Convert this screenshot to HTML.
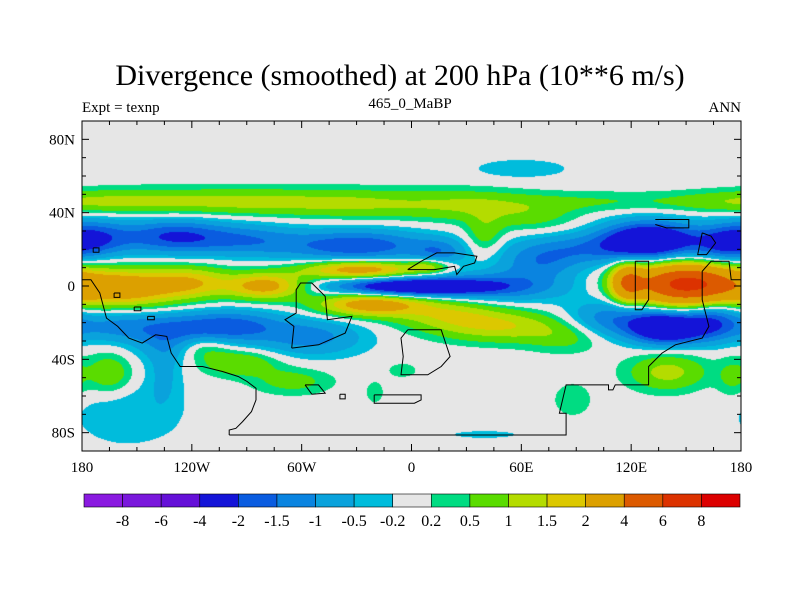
<!DOCTYPE html>
<html><head><meta charset="utf-8">
<style>
body{margin:0;background:#fff;}
#wrap{position:relative;width:800px;height:600px;overflow:hidden;font-family:"Liberation Serif",serif;}
.t{position:absolute;white-space:nowrap;color:#000;}
</style></head>
<body>
<div id="wrap">
<div class="t" style="left:0;width:800px;text-align:center;top:59px;font-size:30px;">Divergence (smoothed) at 200 hPa (10**6 m/s)</div>
<div class="t" style="left:82px;top:100px;font-size:15px;">Expt = texnp</div>
<div class="t" style="left:310px;width:200px;text-align:center;top:96px;font-size:15px;">465_0_MaBP</div>
<div class="t" style="right:59px;top:100px;font-size:15px;">ANN</div>
<canvas id="cv" width="659" height="330" style="position:absolute;left:82px;top:121px;"></canvas>
<svg id="sv" width="800" height="600" style="position:absolute;left:0;top:0;"></svg>
</div>
<script>
// field blobs: lon, lat, amplitude, lon-width, lat-width
const blobLon=[-150,-90,-30,30,100,170,40,60,-175,-130,-90,-30,15,130,90,170,70,-158,-120,-80,-28,10,0,50,-22,20,50,85,118,150,140,110,165,-160,-100,-55,-130,-115,-95,-65,-165,-155,-135,140,175,-5,-20,88,40,65];
const blobLat=[46,46,45,44,46,46,28,64,26,27,25,22,18,25,20,22,12,-1,2,0,9,11,-0.5,0,-10,-15,-22,-28,2,1,-23,-18,-18,-22,-22,-28,-30,-33,-42,-52,-48,-68,-48,-47,-50,-46,-58,-62,-81,38];
const blobAmp=[0.95,1.0,1.0,0.9,0.5,0.55,0.8,-0.4,-1.9,-2.0,-1.2,-1.95,-1.1,-3.4,-1.2,-1.4,-1,2.8,1.6,2.4,2.6,1.2,-3.5,-1.4,2.6,1.2,1.4,0.6,3.2,6.6,-3.4,-1.4,-1.4,-1.2,-1.8,-1.2,-1,0.9,1.0,0.7,1.0,-0.45,-0.5,1.2,0.6,0.4,0.35,0.4,-0.3,0.6];
const blobSx=[30,30,30,25,35,25,7,20,15,20,20,28,10,18,25,12,15,22,15,15,22,8,28,25,20,20,25,15,6,20,14,18,10,25,20,20,15,10,15,15,9,22,6,15,6,6,4,8,18,18];
const blobSy=[5,5,5.5,6,4,4,8,4,7,6.5,6,6,5,7,6,7,6,7,6,5,3.5,3,3.5,6,4.5,6,6,6,7,7.5,6,7,8,6,6,7,8,5,5,5,8,14,12,7,8,3,5,7,2,6];
const levels=[-8,-6,-4,-2,-1.5,-1,-0.5,-0.2,0.2,0.5,1,1.5,2,4,6,8];
const levelLabels=["-8","-6","-4","-2","-1.5","-1","-0.5","-0.2","0.2","0.5","1","1.5","2","4","6","8"];
const colors=["#8a1ae0","#7a18dc","#6510d8","#1414d8","#0a5ce0","#0a84e0","#0aa2dc","#00bcdc","#e6e6e6","#00dc82","#5adc00","#b4dc00","#dcc800","#dca000","#dc5a00","#dc3200","#dc0000"];
const lonTicks=[-180,-120,-60,0,60,120,180];
const lonLabels=["180","120W","60W","0","60E","120E","180"];
const latTicks=[80,40,0,-40,-80];
const latLabels=["80N","40N","0","40S","80S"];

const X0=82,X1=741,Y0=121,Y1=451;
const xOf=lon=>X0+(lon+180)/360*(X1-X0);
const yOf=lat=>Y0+(90-lat)/180*(Y1-Y0);
function colorIdx(v){let i=0;while(i<levels.length&&v>=levels[i])i++;return i;}
const rgb=colors.map(c=>[parseInt(c.slice(1,3),16),parseInt(c.slice(3,5),16),parseInt(c.slice(5,7),16)]);

const cv=document.getElementById('cv'),ctx=cv.getContext('2d');
const W=cv.width,H=cv.height,img=ctx.createImageData(W,H);
for(let py=0;py<H;py++){const lat=90-(py+0.5)/H*180;
 for(let px=0;px<W;px++){const lon=-180+(px+0.5)/W*360;let v=0;
  for(let k=0;k<blobLon.length;k++){let d=lon-blobLon[k];if(d>180)d-=360;if(d<-180)d+=360;
   const a=d/blobSx[k],b=(lat-blobLat[k])/blobSy[k];const e=a*a+b*b;if(e<30)v+=blobAmp[k]*Math.exp(-e/2);}
  const c=rgb[colorIdx(v)],o=(py*W+px)*4;img.data[o]=c[0];img.data[o+1]=c[1];img.data[o+2]=c[2];img.data[o+3]=255;}}
ctx.putImageData(img,0,0);

const NS='http://www.w3.org/2000/svg',sv=document.getElementById('sv');
function mk(tag,attrs,parent){const e=document.createElementNS(NS,tag);for(const k in attrs)e.setAttribute(k,attrs[k]);(parent||sv).appendChild(e);return e;}
const coasts=[
[[380,1005],[1135,1005],[1135,940],[1120,940],[1135,855],[1230,855],[1230,870],[1240,870],[1245,855],[1320,855],[1320,800],[1350,760],[1380,735],[1440,715],[1455,680],[1440,600],[1440,515],[1460,485],[1500,485],[1505,540],[1527,540]],
[[380,1005],[380,990],[395,985],[410,965],[430,935],[440,900],[440,865],[420,845],[400,830],[365,815],[320,800],[270,800],[250,760],[240,710],[215,705],[185,730],[155,715],[130,680],[105,655],[90,580],[70,540],[50,540]],
[[520,745],[580,735],[640,700],[655,650],[600,660],[595,590],[565,550],[540,550],[530,570],[530,640],[505,660],[525,680],[520,745]],
[[780,690],[855,690],[875,770],[855,800],[825,825],[765,825],[770,770],[765,715],[780,690]],
[[780,510],[810,485],[845,460],[885,460],[935,470],[930,490],[905,500],[890,525],[885,500],[840,510],[780,510]],
[[1290,485],[1320,485],[1320,600],[1305,630],[1290,630],[1290,485]],
[[1335,360],[1410,360],[1410,385],[1360,385],[1335,375]],
[[1440,400],[1460,410],[1470,430],[1450,465],[1430,465],[1440,400]],
[[705,885],[810,885],[810,900],[795,910],[705,910],[705,885]],
[[550,855],[580,855],[595,880],[565,883],[550,855]],
[[75,445],[88,445],[88,458],[75,458],[75,445]],[[122,580],[135,580],[135,593],[122,593],[122,580]],
[[167,622],[182,622],[182,633],[167,633],[167,622]],[[197,650],[212,650],[212,660],[197,660],[197,650]],
[[628,883],[640,883],[640,897],[628,897],[628,883]]];
const zx=z=>X0+(z-50)/1477*(X1-X0),zy=z=>Y0+(z-65)/988*(Y1-Y0);
coasts.forEach(c=>{const p=mk('polyline',{points:c.map(q=>zx(q[0]).toFixed(1)+','+zy(q[1]).toFixed(1)).join(' '),fill:'none',stroke:'#000','stroke-width':1});

});
const fr=mk('rect',{x:X0,y:Y0,width:X1-X0,height:Y1-Y0,fill:'none',stroke:'#000','stroke-width':1});


for(let lon=-180;lon<=180;lon+=15){const x=xOf(lon),L=lon%60===0?7:4;
 mk('line',{x1:x,y1:Y1,x2:x,y2:Y1-L,stroke:'#000'});mk('line',{x1:x,y1:Y0,x2:x,y2:Y0+L,stroke:'#000'});}
for(let lat=-80;lat<=80;lat+=10){const y=yOf(lat),L=lat%40===0?7:4;
 mk('line',{x1:X0,y1:y,x2:X0+L,y2:y,stroke:'#000'});mk('line',{x1:X1,y1:y,x2:X1-L,y2:y,stroke:'#000'});}
lonTicks.forEach((lon,i)=>{const t=mk('text',{x:xOf(lon),y:472,'text-anchor':'middle','font-size':15,'font-family':'Liberation Serif, serif'});t.textContent=lonLabels[i];

});
latTicks.forEach((lat,i)=>{const t=mk('text',{x:75,y:yOf(lat)+5,'text-anchor':'end','font-size':15,'font-family':'Liberation Serif, serif'});t.textContent=latLabels[i];

});
const CB0=84,CB1=740,bw=(CB1-CB0)/colors.length;
colors.forEach((c,i)=>{const r=mk('rect',{x:CB0+i*bw,y:494,width:bw,height:13,fill:c,stroke:'#000','stroke-width':0.6});

});
levelLabels.forEach((l,i)=>{const t=mk('text',{x:CB0+(i+1)*bw,y:526,'text-anchor':'middle','font-size':16,'font-family':'Liberation Serif, serif'});t.textContent=l;

});
</script>
</body></html>
